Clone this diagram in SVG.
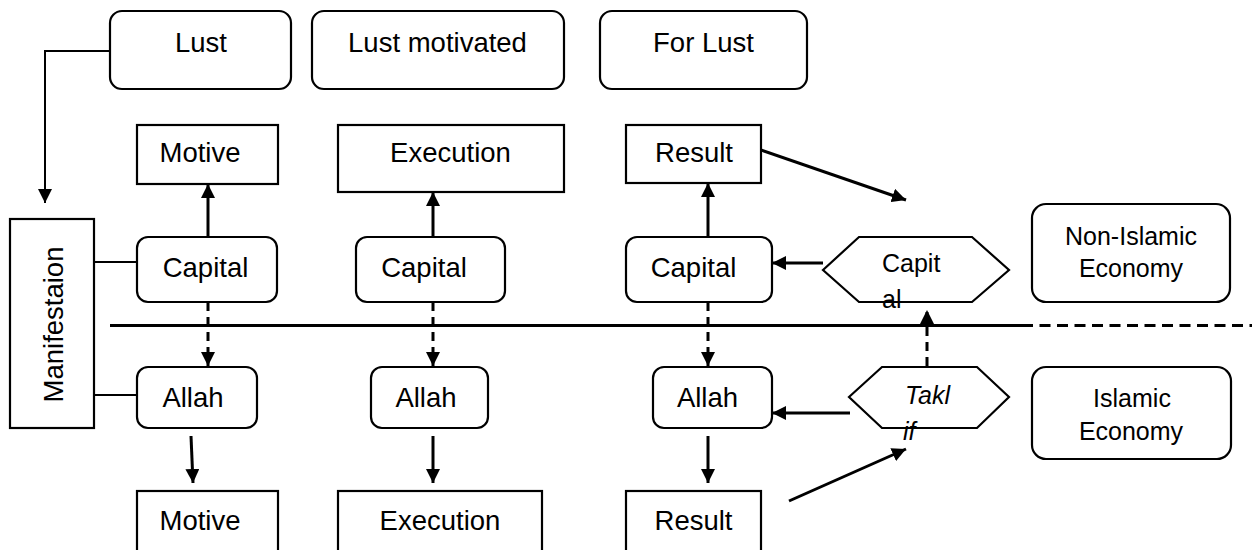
<svg xmlns="http://www.w3.org/2000/svg" width="1252" height="550" viewBox="0 0 1252 550">
<defs>
<style>
.box{fill:#fff;stroke:#000;stroke-width:2.2}
.t{font-family:"Liberation Sans",Arial,sans-serif;font-size:27.5px;fill:#000;text-anchor:middle}
.s{font-family:"Liberation Sans",Arial,sans-serif;font-size:25px;fill:#000}
.c{fill:none;stroke:#000;stroke-width:3}
.d{fill:none;stroke:#000;stroke-width:3;stroke-dasharray:9 6}
</style>
<marker id="ah" markerUnits="userSpaceOnUse" markerWidth="14" markerHeight="14" refX="14" refY="7" orient="auto">
<path d="M0,0 L14,7 L0,14 z" fill="#000"/>
</marker>
</defs>
<rect width="1252" height="550" fill="#fff"/>

<g id="connectors">
<path class="c" style="stroke-width:2" d="M110,51 H45 V203" marker-end="url(#ah)"/>
<path class="c" d="M208,237 V184" marker-end="url(#ah)"/>
<path class="c" d="M433,237 V192" marker-end="url(#ah)"/>
<path class="c" d="M708,237 V183" marker-end="url(#ah)"/>
<path class="c" d="M761,150 L906,200" marker-end="url(#ah)"/>
<path class="c" d="M823,263 H772" marker-end="url(#ah)"/>
<path class="c" style="stroke-width:2.2" d="M94,262 H137"/>
<path class="c" style="stroke-width:2.2" d="M94,395 H137"/>
<path class="d" d="M208,302 V366" marker-end="url(#ah)"/>
<path class="d" d="M433,302 V366" marker-end="url(#ah)"/>
<path class="d" d="M708,302 V366" marker-end="url(#ah)"/>
<path class="c" d="M191,436 L193,483" marker-end="url(#ah)"/>
<path class="c" d="M433,436 V483" marker-end="url(#ah)"/>
<path class="c" d="M708,436 V483" marker-end="url(#ah)"/>
<path class="c" d="M850,413 H772" marker-end="url(#ah)"/>
<path class="d" d="M927,366 V310" marker-end="url(#ah)"/>
<path class="c" d="M789,501 L906,449" marker-end="url(#ah)"/>
<path class="c" d="M110,325.5 H1022"/>
<path class="c" style="stroke-dasharray:11 6.5" d="M1022,325.5 H1252"/>
</g>

<g id="lust"><rect class="box" x="110" y="11" width="181" height="78" rx="12"/><text class="t" x="201" y="52">Lust</text></g>
<g id="lust-motivated"><rect class="box" x="312" y="11" width="252" height="78" rx="12"/><text class="t" x="437.5" y="52">Lust motivated</text></g>
<g id="for-lust"><rect class="box" x="600" y="11" width="207" height="78" rx="12"/><text class="t" x="703.5" y="52">For Lust</text></g>

<g id="motive-top"><rect class="box" x="137" y="125" width="141" height="59"/><text class="t" x="200" y="162">Motive</text></g>
<g id="execution-top"><rect class="box" x="338" y="125" width="226" height="67"/><text class="t" x="450.5" y="162">Execution</text></g>
<g id="result-top"><rect class="box" x="626" y="125" width="135" height="58"/><text class="t" x="694" y="162">Result</text></g>

<g id="manifestation"><rect class="box" x="10" y="219" width="84" height="209"/><text class="t" transform="translate(63,324.5) rotate(-90)">Manifestaion</text></g>

<g id="capital-1"><rect class="box" x="137" y="237" width="140" height="65" rx="11"/><text class="t" x="205.5" y="277">Capital</text></g>
<g id="capital-2"><rect class="box" x="356" y="237" width="149" height="65" rx="11"/><text class="t" x="424" y="277">Capital</text></g>
<g id="capital-3"><rect class="box" x="626" y="237" width="146" height="65" rx="11"/><text class="t" x="693.5" y="277">Capital</text></g>

<g id="capital-hex"><polygon class="box" points="823,270 859,237 972,237 1009,270 972,302 859,302"/><text class="s" x="882" y="272">Capit</text><text class="s" x="882" y="308">al</text></g>
<g id="non-islamic"><rect class="box" x="1032" y="204" width="198" height="98" rx="14"/><text class="s" x="1131" y="245" text-anchor="middle">Non-Islamic</text><text class="s" x="1131" y="277" text-anchor="middle">Economy</text></g>

<g id="allah-1"><rect class="box" x="137" y="367" width="120" height="61" rx="11"/><text class="t" x="193" y="407">Allah</text></g>
<g id="allah-2"><rect class="box" x="371" y="367" width="117" height="61" rx="11"/><text class="t" x="426" y="407">Allah</text></g>
<g id="allah-3"><rect class="box" x="653" y="367" width="119" height="61" rx="11"/><text class="t" x="707.5" y="407">Allah</text></g>

<g id="taklif-hex"><polygon class="box" points="849,397 882,367 977,367 1009,397 977,428 882,428"/><text class="s" x="905" y="404" font-style="italic">Takl</text><text class="s" x="903" y="440" font-style="italic">if</text></g>
<g id="islamic"><rect class="box" x="1032" y="367" width="199" height="92" rx="14"/><text class="s" x="1132" y="407" text-anchor="middle">Islamic</text><text class="s" x="1131" y="440" text-anchor="middle">Economy</text></g>

<g id="motive-bottom"><rect class="box" x="137" y="491" width="141" height="62"/><text class="t" x="200" y="530">Motive</text></g>
<g id="execution-bottom"><rect class="box" x="338" y="491" width="204" height="62"/><text class="t" x="440" y="530">Execution</text></g>
<g id="result-bottom"><rect class="box" x="626" y="491" width="135" height="62"/><text class="t" x="693.5" y="530">Result</text></g>
</svg>
